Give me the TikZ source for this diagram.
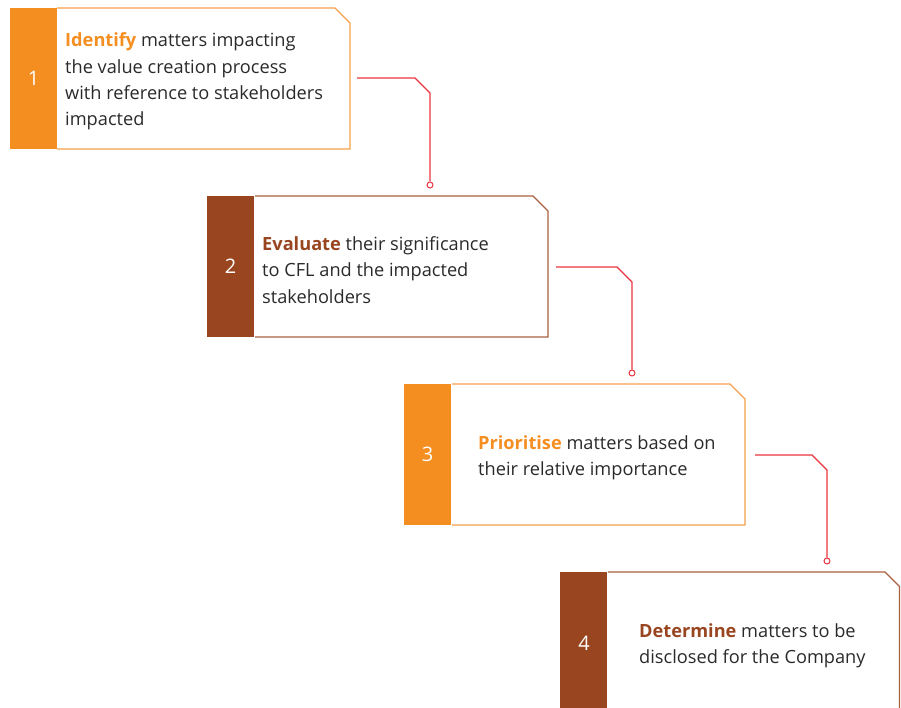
\documentclass[tikz,border=0pt]{standalone}
\usepackage{fontspec}
\setmainfont{Open Sans}
\definecolor{orng}{HTML}{F58E20}
\definecolor{orngline}{HTML}{F5A04A}
\definecolor{brwn}{HTML}{984520}
\definecolor{brwnline}{HTML}{A8603E}
\definecolor{conn}{HTML}{E8343E}
\definecolor{txtc}{HTML}{2A2A2A}
\tikzset{
  barbox/.style={fill=#1, draw=none, text=white, inner sep=0pt, minimum width=47pt, minimum height=141pt, anchor=north west, font=\fontsize{20}{20}\selectfont},
  cardline/.style={draw=#1, line width=1.1pt},
  txt/.style={anchor=west, align=left, inner sep=0pt, text=txtc, font=\fontsize{18.2}{26.3}\selectfont},
  link/.style={draw=conn, line width=1.1pt},
  dot/.style={circle, draw=conn, fill=white, line width=1pt, minimum size=6pt, inner sep=0pt}
}
\newcommand{\kw}[2]{\textcolor{#1}{\bfseries #2}}
\begin{document}
\begin{tikzpicture}[x=1pt,y=-1pt]
\useasboundingbox (0,0) rectangle (901,708);
\clip (0,0) rectangle (901,708);
% card 1
\draw[cardline=orngline] (57,8) -- (335,8) -- (350,23) -- (350,149) -- (57,149);
\node[barbox=orng] (b1) at (10,8) {1};
\node[txt] (t1) at (65,81.5) {\kw{orng}{Identify} matters impacting\\the value creation process\\with reference to stakeholders\\impacted};
% card 2
\draw[cardline=brwnline] (255,196) -- (533,196) -- (548,211) -- (548,337) -- (255,337);
\node[barbox=brwn] (b2) at (207,196) {2};
\node[txt] (t2) at (262,270) {\kw{brwn}{Evaluate} their significance\\to CFL and the impacted\\stakeholders};
% card 3
\draw[cardline=orngline] (452,384) -- (730,384) -- (745,399) -- (745,525) -- (452,525);
\node[barbox=orng] (b3) at (404,384) {3};
\node[txt] (t3) at (478,457.5) {\kw{orng}{Prioritise} matters based on\\their relative importance};
% card 4
\draw[cardline=brwnline] (608,572) -- (885,572) -- (899.5,586.5) -- (899.5,720) -- (608,720);
\node[barbox=brwn, minimum height=150pt] (b4) at (560,572) {};
\node[text=white, font=\fontsize{20}{20}\selectfont] (n4) at (584,643) {4};
\node[txt] (t4) at (639,646) {\kw{brwn}{Determine} matters to be\\disclosed for the Company};
% connectors
\coordinate (s1) at (357,78);
\node[dot] (d1) at (430,185) {};
\draw[link] (s1) -- (415,78) -- (430,93) -- (d1.north);
\coordinate (s2) at (556,267);
\node[dot] (d2) at (632,373) {};
\draw[link] (s2) -- (617,267) -- (632,282) -- (d2.north);
\coordinate (s3) at (755,455);
\node[dot] (d3) at (827,561) {};
\draw[link] (s3) -- (812,455) -- (827,470) -- (d3.north);
\end{tikzpicture}
\end{document}
